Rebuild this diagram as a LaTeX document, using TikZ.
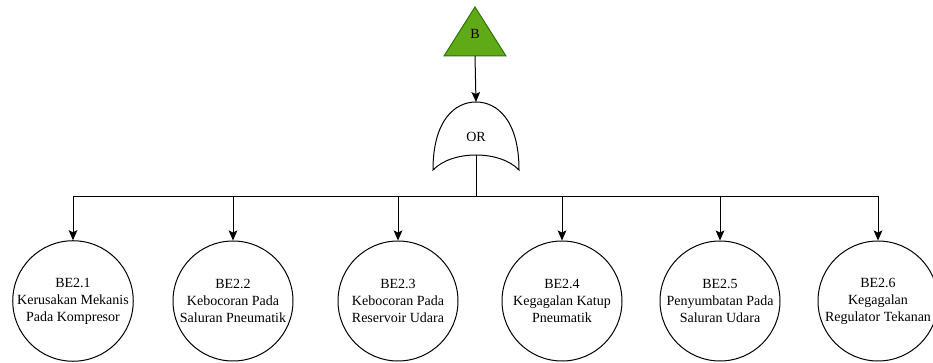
\documentclass[tikz,border=0pt]{standalone}
\usepackage{fontspec}
\setmainfont{Liberation Serif}
\usetikzlibrary{arrows.meta}
\definecolor{evfill}{HTML}{60A917}
\definecolor{evline}{HTML}{2D7600}
\begin{document}
\begin{tikzpicture}[x=0.75pt,y=-0.75pt,
  line width=0.75pt,
  link/.style={draw=black,-{Stealth[length=7.5pt,width=6.5pt,inset=1.5pt]}},
  basic/.style={circle,draw=black,minimum size=90pt,inner sep=0pt,align=center,
    font=\fontsize{10.5pt}{12.8pt}\selectfont},
  lbl/.style={font=\fontsize{10.5pt}{12.8pt}\selectfont}]
\useasboundingbox (0,0) rectangle (933,363);
% top event triangle
\filldraw[fill=evfill,draw=evline] (475,7) -- (506,56) -- (444,56) -- cycle;
\node[lbl] (B) at (475,34) {B};
\coordinate (Bbase) at (475,56);
% OR gate
\draw (433,170) .. controls (433,120) and (455,102) .. (476,102)
      .. controls (497,102) and (519,120) .. (519,170)
      .. controls (500,150) and (452,150) .. (433,170) -- cycle;
\node[lbl] (OR) at (476,137) {OR};
\coordinate (ortop) at (476,102);
\coordinate (orout) at (476,155);
\coordinate (bus) at (476,197);
\draw[link] (Bbase) -- (ortop);
\draw (orout) -- (bus);
% basic events
\node[basic] (e1) at (73,301)  {BE2.1\\Kerusakan Mekanis\\Pada Kompresor};
\node[basic] (e2) at (233,301) {BE2.2\\Kebocoran Pada\\Saluran Pneumatik};
\node[basic] (e3) at (398,301) {BE2.3\\Kebocoran Pada\\Reservoir Udara};
\node[basic] (e4) at (562,301) {BE2.4\\Kegagalan Katup\\Pneumatik};
\node[basic] (e5) at (720,301) {BE2.5\\Penyumbatan Pada\\Saluran Udara};
\node[basic] (e6) at (878,301) {BE2.6\\Kegagalan\\Regulator Tekanan};
\foreach \e in {e1,e2,e3,e4,e5,e6}
  \draw[link] (bus) -| (\e.north);
\end{tikzpicture}
\end{document}
